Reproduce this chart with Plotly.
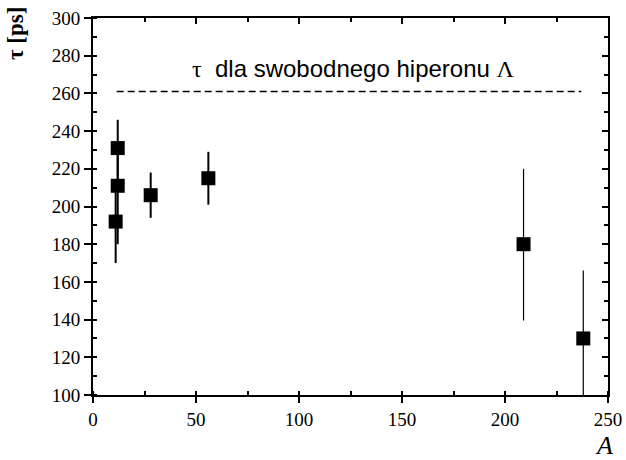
import plotly.graph_objects as go

A_vals = [11, 12, 12, 28, 56, 209, 238]
tau_vals = [192, 211, 231, 206, 215, 180, 130]
err_plus = [20, 22, 15, 12, 14, 40, 36]
err_minus = [22, 31, 20, 12, 14, 40.5, 40]
bar_width = [2, 2, 2, 2, 2, 1.2, 1.2]

free_tau = 261
free_x = [11.5, 237]
SERIF = "Times New Roman, Liberation Serif, Times, serif"
free_label = ("<span style='font-family:Times New Roman, Liberation Serif, serif'>τ</span>  "
              "dla swobodnego hiperonu "
              "<span style='font-family:Times New Roman, Liberation Serif, serif'>Λ</span>")

x_ticks = [0, 50, 100, 150, 200, 250]
y_ticks = [100, 120, 140, 160, 180, 200, 220, 240, 260, 280, 300]

fig = go.Figure()

for a, t, ep, em, w in zip(A_vals, tau_vals, err_plus, err_minus, bar_width):
    fig.add_trace(go.Scatter(
        x=[a], y=[t], mode="markers",
        marker=dict(symbol="square", size=14, color="black"),
        error_y=dict(type="data", symmetric=False, array=[ep], arrayminus=[em],
                     color="black", thickness=w, width=0),
        showlegend=False, cliponaxis=True))

fig.add_trace(go.Scatter(
    x=free_x, y=[free_tau, free_tau], mode="lines",
    line=dict(color="black", width=1.3, dash="7px,4px"),
    showlegend=False))

# invisible trace for mirror axes
fig.add_trace(go.Scatter(x=[0], y=[100], xaxis="x2", yaxis="y2", mode="markers",
                         marker=dict(opacity=0), showlegend=False, hoverinfo="skip"))

tickfont = dict(family=SERIF, size=19, color="black")
common = dict(showline=True, linecolor="black", linewidth=2, showgrid=False,
              zeroline=False, automargin=False, tickwidth=2, tickcolor="black")

fig.update_layout(
    template="none",
    width=626, height=460,
    margin=dict(l=93, r=18, t=18, b=65),
    paper_bgcolor="white", plot_bgcolor="white",
    font=dict(family=SERIF, color="black"),
    xaxis=dict(range=[0, 250], tickvals=x_ticks, ticks="outside", ticklen=6,
               tickfont=tickfont,
               minor=dict(dtick=25, ticks="inside", ticklen=4, tickwidth=2, tickcolor="black"),
               **common),
    yaxis=dict(range=[100, 300], tickvals=y_ticks, ticks="outside", ticklen=7,
               tickfont=tickfont,
               minor=dict(dtick=10, ticks="inside", ticklen=4, tickwidth=2, tickcolor="black"),
               **common),
    xaxis2=dict(range=[0, 250], overlaying="x", side="top", tickvals=x_ticks, ticks="inside",
                ticklen=6, showticklabels=False,
                minor=dict(dtick=25, ticks="inside", ticklen=4, tickwidth=2, tickcolor="black"),
                **common),
    yaxis2=dict(range=[100, 300], overlaying="y", side="right", tickvals=y_ticks, ticks="inside",
                ticklen=6, showticklabels=False,
                minor=dict(dtick=10, ticks="inside", ticklen=4, tickwidth=2, tickcolor="black"),
                **common),
    annotations=[
        dict(text=free_label, x=126.5, y=273.0, xref="x", yref="y", showarrow=False,
             xanchor="center", yanchor="middle",
             font=dict(family="Liberation Sans, Arial, sans-serif", size=24, color="black")),
        dict(text="<b>τ [ps]</b>", x=-0.15, y=1.035, xref="paper", yref="paper",
             showarrow=False, textangle=-90, xanchor="center", yanchor="top",
             font=dict(family=SERIF, size=23, color="black")),
        dict(text="<i>A</i>", x=0.993, y=-0.09, xref="paper", yref="paper",
             showarrow=False, xanchor="center", yanchor="top",
             font=dict(family=SERIF, size=26, color="black")),
    ],
)

fig.write_html("out.html", config={"displayModeBar": False},
               post_script="document.body.style.margin='0';")
